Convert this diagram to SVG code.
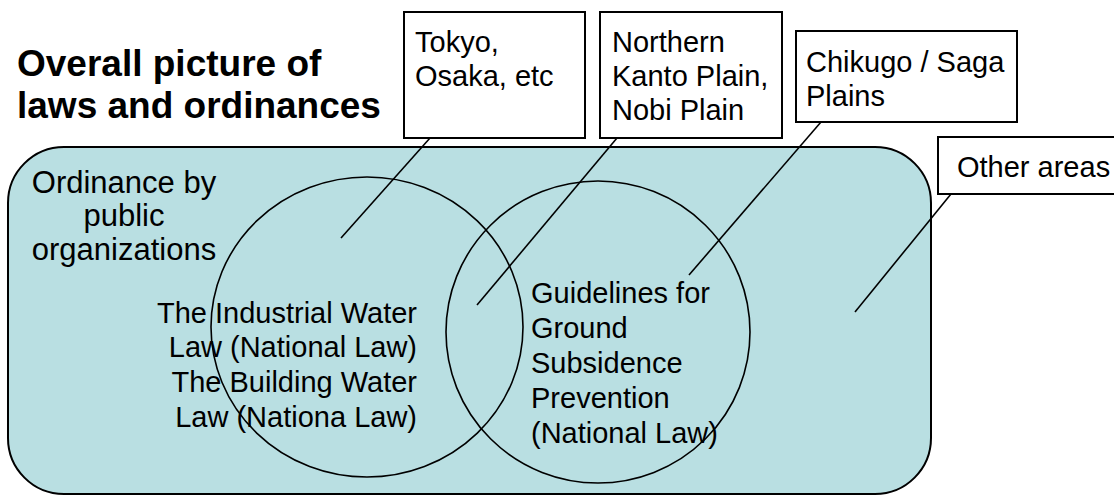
<svg xmlns="http://www.w3.org/2000/svg" width="1114" height="496" viewBox="0 0 1114 496">
<style>
.t{font-family:"Liberation Sans",Arial,sans-serif;font-size:29px;fill:#000}
.o{font-family:"Liberation Sans",Arial,sans-serif;font-size:31px;fill:#000}
.title{font-family:"Liberation Sans",Arial,sans-serif;font-size:37px;font-weight:bold;fill:#000}
.box{fill:#fff;stroke:#000;stroke-width:2}
.ring{fill:none;stroke:#000;stroke-width:1.6}
.ln{stroke:#000;stroke-width:1.6;fill:none}
</style>
<rect width="1114" height="496" fill="#fff"/>
<g id="title">
<text class="title" x="17" y="76">Overall picture of</text>
<text class="title" x="17" y="118">laws and ordinances</text>
</g>
<g id="ordinance-area">
<rect x="8" y="147" width="923" height="347" rx="56" ry="56" fill="#b9dfe2" stroke="#000" stroke-width="2"/>
<text class="o" text-anchor="middle"><tspan x="124" y="193">Ordinance by</tspan><tspan x="124" y="226">public</tspan><tspan x="124" y="260">organizations</tspan></text>
</g>
<g id="national-law-circle">
<ellipse class="ring" cx="367" cy="327" rx="156" ry="150"/>
</g>
<g id="guidelines-circle">
<ellipse class="ring" cx="598" cy="332" rx="152" ry="151"/>
</g>
<g id="connectors">
<line class="ln" x1="430" y1="138" x2="341" y2="238"/>
<line class="ln" x1="617" y1="138" x2="477" y2="305"/>
<line class="ln" x1="821" y1="122" x2="689" y2="275"/>
<line class="ln" x1="951" y1="194" x2="855" y2="312"/>
</g>
<g id="national-law-text">
<text class="t" text-anchor="end"><tspan x="417" y="323">The Industrial Water</tspan><tspan x="417" y="357">Law (National Law)</tspan><tspan x="417" y="392">The Building Water</tspan><tspan x="417" y="427">Law (Nationa Law)</tspan></text>
</g>
<g id="guidelines-text">
<text class="t"><tspan x="531" y="303">Guidelines for</tspan><tspan x="531" y="338">Ground</tspan><tspan x="531" y="373">Subsidence</tspan><tspan x="531" y="408">Prevention</tspan><tspan x="531" y="443">(National Law)</tspan></text>
</g>
<g id="box-tokyo">
<rect class="box" x="404" y="12" width="181" height="126"/>
<text class="t"><tspan x="415" y="52">Tokyo,</tspan><tspan x="415" y="86">Osaka, etc</tspan></text>
</g>
<g id="box-kanto">
<rect class="box" x="600" y="12" width="182" height="126"/>
<text class="t"><tspan x="612" y="52">Northern</tspan><tspan x="612" y="86">Kanto Plain,</tspan><tspan x="612" y="120">Nobi Plain</tspan></text>
</g>
<g id="box-chikugo">
<rect class="box" x="796" y="31" width="221" height="91"/>
<text class="t"><tspan x="806" y="72">Chikugo / Saga</tspan><tspan x="806" y="106">Plains</tspan></text>
</g>
<g id="box-other">
<rect class="box" x="938" y="137" width="182" height="57"/>
<text class="t" x="957" y="177">Other areas</text>
</g>
</svg>
